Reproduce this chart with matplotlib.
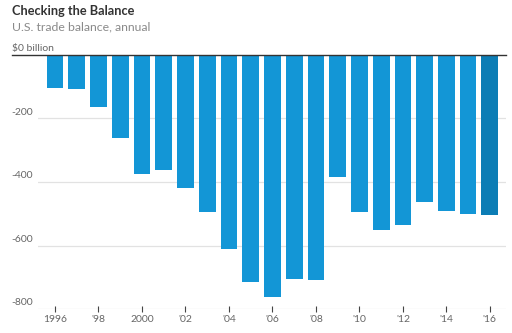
import matplotlib
matplotlib.use("Agg")
import matplotlib.pyplot as plt
import matplotlib.transforms as mtransforms

# U.S. trade balance, billions of dollars
years = list(range(1996, 2017))
balance = [-105, -108, -165, -262, -375, -362, -418, -494, -610, -714, -761,
           -706, -709, -385, -494, -550, -537, -463, -490, -500, -504]
tick_years = list(range(1996, 2017, 2))
tick_labels = ["1996", "'98", "2000", "'02", "'04", "'06", "'08", "'10", "'12", "'14", "'16"]
y_ticks = [0, -200, -400, -600, -800]
y_labels = ["$0 billion", "-200", "-400", "-600", "-800"]

plt.rcParams['font.family'] = ['Lato', 'DejaVu Sans']

fig = plt.figure(figsize=(5.12, 3.33), dpi=100)
ax = fig.add_axes([0.0742, 0.072, 0.914, 0.763])

colors = ['#1396d6'] * (len(years) - 1) + ['#0c7db5']
ax.bar(years, balance, width=0.77, color=colors, zorder=3)

ax.set_xlim(1995.22, 2016.74)
ax.set_ylim(-800, 0)

for s in ax.spines.values():
    s.set_visible(False)

# light gridlines, dark zero line
for v in y_ticks[1:]:
    ax.axhline(v, color='#e2e2e2', lw=0.9, zorder=1)
ax.axhline(0, xmin=-0.056, xmax=1.0, color='#333333', lw=1.0, zorder=4, clip_on=False)

trans = mtransforms.blended_transform_factory(ax.transAxes, ax.transData)
for v, lab in zip(y_ticks, y_labels):
    ax.text(-0.056, v + 6, lab, transform=trans, ha='left', va='bottom',
            fontsize=7.5, color='#666666')
ax.set_yticks([])

ax.set_xticks(tick_years)
ax.set_xticklabels(tick_labels)
ax.tick_params(axis='x', direction='inout', length=5, width=0.8, color='#444444',
               labelsize=7.5, labelcolor='#666666', pad=2)

fig.text(0.023, 0.985, "Checking the Balance", fontsize=9.2, fontweight='bold',
         color='#333333', ha='left', va='top')
fig.text(0.023, 0.937, "U.S. trade balance, annual", fontsize=8.8,
         color='#8a8a8a', ha='left', va='top')

fig.savefig("out.png", dpi=100)
